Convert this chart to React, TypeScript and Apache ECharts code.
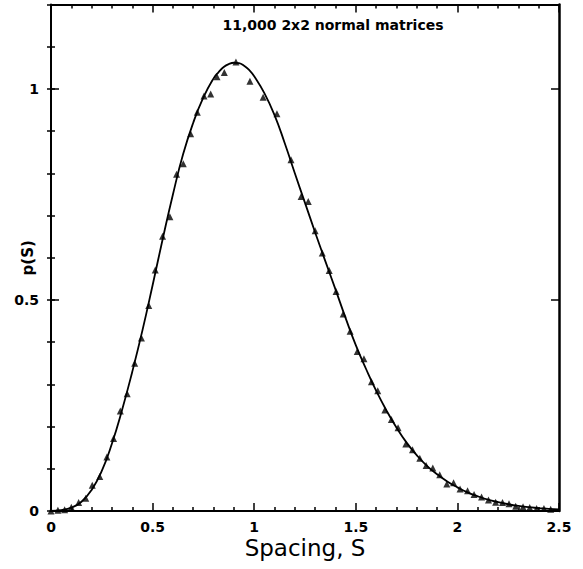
import React, { useEffect, useRef } from "react";
import * as echarts from "echarts";

// Histogram points (triangles)
const S_MARK = [0.0, 0.034, 0.067, 0.1, 0.136, 0.171, 0.203, 0.24, 0.275, 0.308, 0.341, 0.375, 0.412, 0.445, 0.481, 0.513, 0.549, 0.585, 0.618, 0.651, 0.687, 0.72, 0.753, 0.786, 0.817, 0.853, 0.91, 0.979, 1.044, 1.112, 1.181, 1.231, 1.266, 1.3, 1.335, 1.369, 1.403, 1.438, 1.472, 1.507, 1.54, 1.577, 1.608, 1.643, 1.675, 1.708, 1.746, 1.779, 1.815, 1.846, 1.879, 1.913, 1.948, 1.981, 2.013, 2.05, 2.082, 2.119, 2.153, 2.188, 2.222, 2.254, 2.287, 2.323, 2.356, 2.39, 2.426, 2.459];
const P_MARK = [0.0, 0.002, 0.003, 0.009, 0.02, 0.03, 0.061, 0.082, 0.128, 0.172, 0.237, 0.278, 0.35, 0.41, 0.487, 0.571, 0.651, 0.697, 0.798, 0.823, 0.894, 0.945, 0.983, 0.988, 1.029, 1.039, 1.064, 1.018, 0.98, 0.941, 0.832, 0.745, 0.733, 0.664, 0.611, 0.57, 0.52, 0.467, 0.426, 0.378, 0.361, 0.306, 0.285, 0.239, 0.217, 0.197, 0.159, 0.145, 0.125, 0.108, 0.102, 0.086, 0.064, 0.067, 0.052, 0.048, 0.039, 0.033, 0.026, 0.021, 0.02, 0.017, 0.011, 0.01, 0.008, 0.006, 0.006, 0.004];

// Smooth curve
const S_CURVE = [0, 0.05, 0.1, 0.15, 0.2, 0.25, 0.3, 0.35, 0.4, 0.45, 0.5, 0.55, 0.6, 0.65, 0.7, 0.75, 0.8, 0.825, 0.85, 0.875, 0.9, 0.925, 0.95, 0.975, 1.0, 1.05, 1.1, 1.15, 1.2, 1.25, 1.3, 1.35, 1.4, 1.45, 1.5, 1.55, 1.6, 1.65, 1.7, 1.75, 1.8, 1.85, 1.9, 1.95, 2.0, 2.05, 2.1, 2.15, 2.2, 2.25, 2.3, 2.35, 2.4, 2.45, 2.5];
const P_CURVE = [0, 0.002, 0.008, 0.022, 0.05, 0.095, 0.16, 0.24, 0.33, 0.428, 0.535, 0.645, 0.75, 0.845, 0.92, 0.98, 1.025, 1.04, 1.052, 1.059, 1.062, 1.061, 1.055, 1.045, 1.03, 0.99, 0.938, 0.872, 0.8, 0.73, 0.66, 0.592, 0.525, 0.457, 0.393, 0.337, 0.285, 0.239, 0.198, 0.162, 0.132, 0.107, 0.087, 0.07, 0.056, 0.044, 0.035, 0.027, 0.021, 0.016, 0.012, 0.009, 0.007, 0.005, 0.004];

const X_TICK_LABELS = ["0", "0.5", "1", "1.5", "2", "2.5"];
const Y_TICK_LABELS = ["0", "0.5", "1"];

const TITLE = "11,000 2x2 normal matrices";
const X_NAME = "Spacing, S";
const Y_NAME = "p(S)";

export default function App() {
  const ref = useRef<HTMLDivElement>(null);
  useEffect(() => {
    if (!ref.current) return;
    const chart = echarts.init(ref.current, null, { renderer: "svg" });
    const font = "DejaVu Sans";
    const labelStyle = { color: "#000", fontFamily: font, fontWeight: "bold" as const, fontSize: 14 };
    const baseX = {
      type: "value" as const,
      min: 0,
      max: 2.5,
      interval: 0.5,
      splitLine: { show: false },
      axisLine: { show: true, onZero: false, lineStyle: { color: "#000", width: 2 } },
      axisTick: { show: true, inside: true, length: 8, lineStyle: { color: "#000", width: 1.5 } },
      minorTick: { show: true, splitNumber: 5, length: 4, lineStyle: { color: "#000", width: 1.5 } },
    };
    const baseYMajor = {
      type: "value" as const,
      min: 0,
      max: 1.2,
      interval: 0.5,
      splitLine: { show: false },
      axisLine: { show: true, onZero: false, lineStyle: { color: "#000", width: 2 } },
      axisTick: { show: true, inside: true, length: 8, lineStyle: { color: "#000", width: 1.5 } },
    };
    const baseYMinor = {
      type: "value" as const,
      min: 0,
      max: 1.2,
      interval: 0.1,
      splitLine: { show: false },
      axisLine: { show: false },
      axisLabel: { show: false },
      axisTick: { show: true, inside: true, length: 4, lineStyle: { color: "#000", width: 1.5 } },
    };
    chart.setOption({
      animation: false,
      backgroundColor: "#fff",
      grid: { left: 51, right: 24, top: 4.5, bottom: 58, containLabel: false, outerBoundsMode: "none" },
      graphic: [
        {
          type: "text",
          x: 333,
          y: 25,
          style: {
            text: TITLE,
            fontFamily: font,
            fontWeight: "bold",
            fontSize: 14,
            fill: "#000",
            align: "center",
            verticalAlign: "middle",
          },
        },
      ],
      xAxis: [
        {
          ...baseX,
          position: "bottom",
          name: X_NAME,
          nameLocation: "middle",
          nameGap: 25,
          nameMoveOverlap: false,
          nameTextStyle: { color: "#000", fontFamily: font, fontSize: 23 },
          axisLabel: {
            ...labelStyle,
            margin: 9,
            formatter: (v: number) => {
              const i = Math.round(v / 0.5);
              return Math.abs(v - i * 0.5) < 1e-6 ? X_TICK_LABELS[i] ?? "" : "";
            },
          },
        },
        {
          ...baseX,
          position: "top",
          axisLabel: { show: false },
        },
      ],
      yAxis: [
        {
          ...baseYMajor,
          position: "left",
          name: Y_NAME,
          nameLocation: "middle",
          nameGap: 16,
          nameRotate: 90,
          nameMoveOverlap: false,
          nameTextStyle: { color: "#000", fontFamily: font, fontSize: 15, fontWeight: "bold" },
          axisLabel: {
            ...labelStyle,
            margin: 12,
            formatter: (v: number) => {
              const i = Math.round(v / 0.5);
              return Math.abs(v - i * 0.5) < 1e-6 ? Y_TICK_LABELS[i] ?? "" : "";
            },
          },
        },
        { ...baseYMinor, position: "left" },
        { ...baseYMajor, position: "right", axisLabel: { show: false }, axisLine: { show: true, onZero: false, lineStyle: { color: "#000", width: 2.5 } } },
        { ...baseYMinor, position: "right" },
      ],
      series: [
        {
          type: "line",
          xAxisIndex: 0,
          yAxisIndex: 0,
          data: S_CURVE.map((s, i) => [s, P_CURVE[i]]),
          smooth: 0.5,
          showSymbol: false,
          symbol: "none",
          lineStyle: { color: "#000", width: 1.8 },
          z: 2,
        },
        {
          type: "scatter",
          xAxisIndex: 0,
          yAxisIndex: 0,
          data: S_MARK.map((s, i) => [s, P_MARK[i]]),
          symbol: "triangle",
          symbolSize: 7,
          itemStyle: { color: "#000" },
          z: 3,
        },
      ],
    });
    return () => chart.dispose();
  }, []);
  return (
    <div
      ref={ref}
      style={{ position: "fixed", left: 0, top: 0, width: 583, height: 569, background: "#fff" }}
    />
  );
}
